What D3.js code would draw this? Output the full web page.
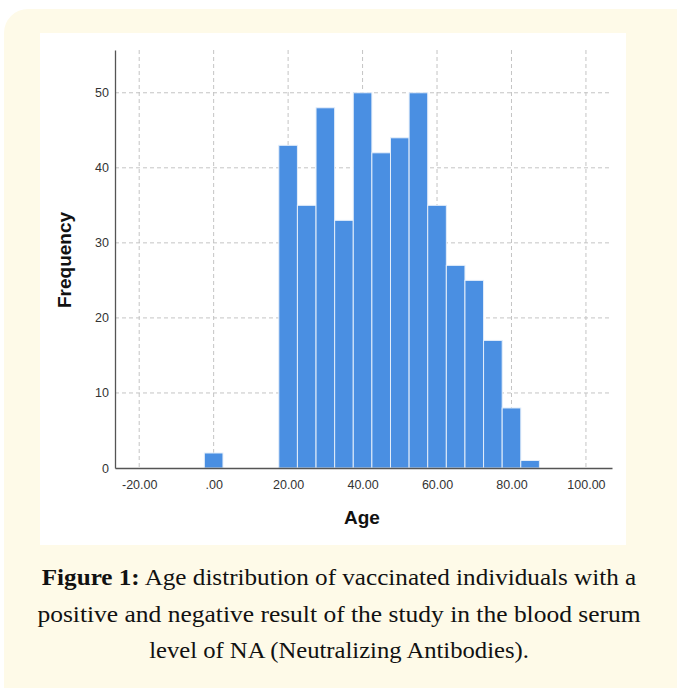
<!DOCTYPE html>
<meta charset="utf-8">
<style type="text/css">
    body { margin: 0; background: #fff; }
    .axis text { font: 12.5px Arial, "Liberation Sans", sans-serif; fill: #333; }
    .axis path.domain { stroke: #555; stroke-width: 1.3; }
    .axis line { display: none; }
    .grid line { stroke: #c4c4c4; stroke-width: 1; stroke-dasharray: 4 3; }
    .bar { fill: #4a8fe2; stroke: #e4eefa; stroke-width: 1; }
    .title { font: bold 19px Arial, "Liberation Sans", sans-serif; fill: #111; }
    .caption { font: 24px "Liberation Serif", serif; fill: #111; }
</style>
<body></body>
<script src="https://cdnjs.cloudflare.com/ajax/libs/d3/7.8.5/d3.min.js"></script>
<script>

// histogram bins (age, width 5) and counts
var binStart = [-2.5, 17.5, 22.5, 27.5, 32.5, 37.5, 42.5, 47.5, 52.5, 57.5, 62.5, 67.5, 72.5, 77.5, 82.5];
var counts   = [2,    43,   35,   48,   33,   50,   42,   44,   50,   35,   27,   25,   17,    8,    1];
var binWidth = 5;

var xTicks = [-20, 0, 20, 40, 60, 80, 100];
var yTicks = [0, 10, 20, 30, 40, 50];

var captionLines = [
    ["Figure 1:", " Age distribution of vaccinated individuals with a"],
    ["", "positive and negative result of the study in the blood serum"],
    ["", "level of NA (Neutralizing Antibodies)."]
];
// measured line widths in the reference (the original font is wider)
var captionWidths = [595, 604, 380];

var W = 677, H = 688;

var svg = d3.select("body").append("svg")
    .attr("width", W)
    .attr("height", H);

// beige panel + white chart area
svg.append("rect")
    .attr("x", 4).attr("y", 9)
    .attr("width", W + 30).attr("height", H - 9 + 30)
    .attr("rx", 24)
    .attr("fill", "#fefae8");

svg.append("rect")
    .attr("x", 40).attr("y", 33)
    .attr("width", 586).attr("height", 512)
    .attr("fill", "#fff");

var x = d3.scaleLinear().domain([-26.5, 107]).range([115, 612]);
var y = d3.scaleLinear().domain([0, 55.7]).range([468, 50]);

// grid
var grid = svg.append("g").attr("class", "grid");
grid.selectAll("line.v")
    .data(xTicks)
    .enter().append("line")
    .attr("x1", function(d) { return x(d); })
    .attr("x2", function(d) { return x(d); })
    .attr("y1", y.range()[1])
    .attr("y2", y(0));
grid.selectAll("line.h")
    .data(yTicks.filter(function(d) { return d > 0; }))
    .enter().append("line")
    .attr("x1", x.range()[0])
    .attr("x2", x.range()[1])
    .attr("y1", function(d) { return y(d); })
    .attr("y2", function(d) { return y(d); });

// bars
svg.selectAll("rect.bar")
    .data(counts)
    .enter().append("rect")
    .attr("class", "bar")
    .attr("x", function(d, i) { return x(binStart[i]); })
    .attr("width", function(d, i) { return x(binStart[i] + binWidth) - x(binStart[i]); })
    .attr("y", function(d) { return y(d); })
    .attr("height", function(d) { return y(0) - y(d); });

// axes
var xAxis = d3.axisBottom(x)
    .tickValues(xTicks)
    .tickSize(0)
    .tickPadding(12)
    .tickFormat(function(d) { return d === 0 ? ".00" : d.toFixed(2); });

var yAxis = d3.axisLeft(y)
    .tickValues(yTicks)
    .tickSize(0)
    .tickPadding(6)
    .tickFormat(d3.format("d"));

svg.append("g")
    .attr("class", "axis")
    .attr("transform", "translate(0," + y(0) + ")")
    .call(xAxis);

svg.append("g")
    .attr("class", "axis")
    .attr("transform", "translate(" + x.range()[0] + ",0)")
    .call(yAxis);

// axis titles
svg.append("text")
    .attr("class", "title")
    .attr("x", 362).attr("y", 524)
    .attr("text-anchor", "middle")
    .text("Age");

svg.append("text")
    .attr("class", "title")
    .attr("transform", "translate(71,260) rotate(-90)")
    .attr("text-anchor", "middle")
    .text("Frequency");

// caption
var cap = svg.selectAll("text.caption")
    .data(captionLines)
    .enter().append("text")
    .attr("class", "caption")
    .attr("x", 0)
    .attr("y", 0)
    .attr("text-anchor", "middle");

cap.append("tspan")
    .attr("font-weight", "bold")
    .text(function(d) { return d[0]; });
cap.append("tspan")
    .text(function(d) { return d[1]; });

// stretch each line horizontally to the reference width
cap.attr("transform", function(d, i) {
    var w = this.getBBox().width;
    var sx = captionWidths[i] / w;
    return "translate(339," + (585 + i * 36.5) + ") scale(" + sx + ",1)";
});

</script>
